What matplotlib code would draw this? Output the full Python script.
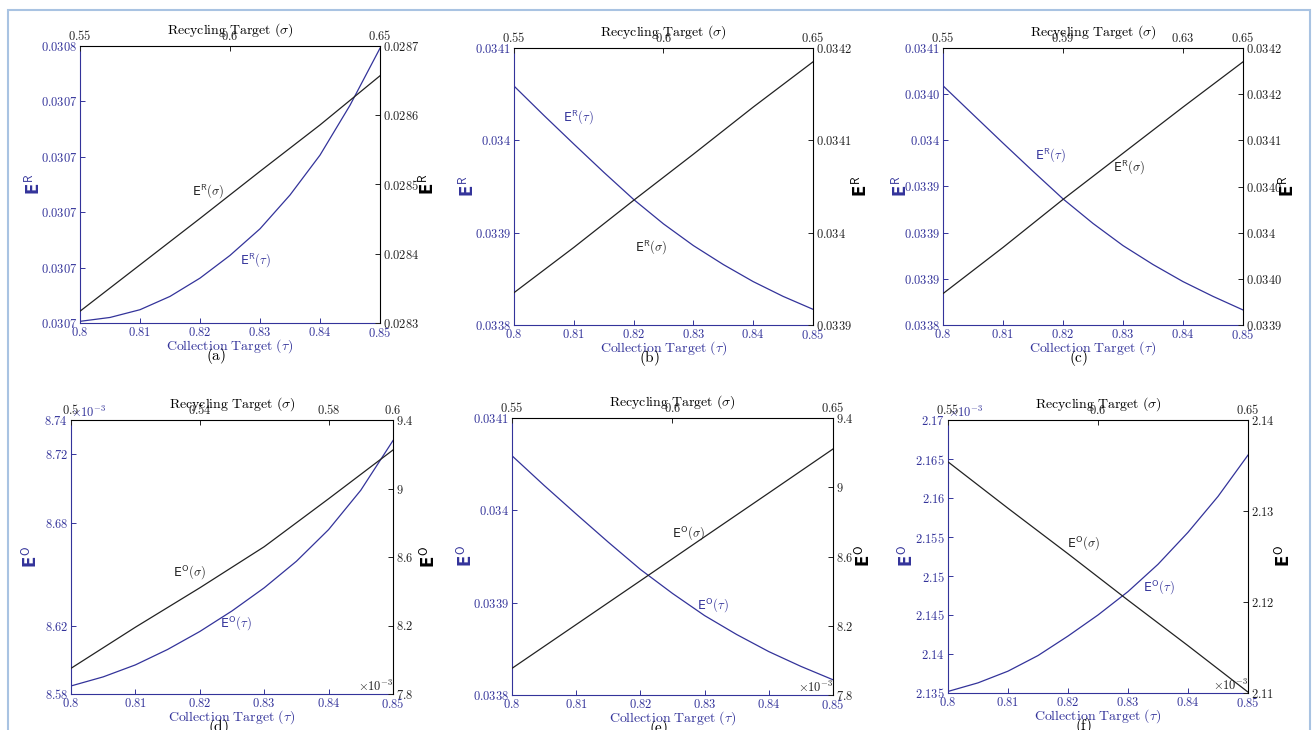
import matplotlib
matplotlib.use("Agg")
import matplotlib.pyplot as plt
from matplotlib.patches import Rectangle

plt.rcParams['mathtext.fontset'] = 'cm'
plt.rcParams['font.family'] = ['DejaVu Sans']

BLUE = '#33339a'
W, H = 1313, 730

# x values
tau = [0.800, 0.805, 0.810, 0.815, 0.820, 0.825, 0.830, 0.835, 0.840, 0.845, 0.850]
sigma = [0.55, 0.57, 0.59, 0.61, 0.63, 0.65]
sigma_d = [0.50, 0.52, 0.54, 0.56, 0.58, 0.60]

# (a) E^R
er_tau_a = [0.0307003, 0.0307010, 0.0307024, 0.0307048, 0.0307081, 0.0307122,
            0.0307170, 0.0307231, 0.0307303, 0.0307393, 0.0307496]
er_sigma_a = [0.028317, 0.028384, 0.028451, 0.028519, 0.028586, 0.028657]
# (b) E^R
er_tau_b = [0.0340588, 0.0340270, 0.0339960, 0.0339655, 0.0339360, 0.0339095,
            0.0338860, 0.0338655, 0.0338470, 0.0338310, 0.0338170]
er_sigma_b = [0.033935, 0.033984, 0.034035, 0.034085, 0.034136, 0.034185]
# (c) E^R
er_tau_c = [0.0340591, 0.0340280, 0.0339970, 0.0339665, 0.0339366, 0.0339100,
            0.0338860, 0.0338655, 0.0338470, 0.0338310, 0.0338163]
er_sigma_c = [0.033934, 0.033984, 0.034036, 0.034086, 0.034136, 0.034185]
# (d) E^O
eo_tau_d = [8.5847e-3, 8.5900e-3, 8.5970e-3, 8.6060e-3, 8.6165e-3, 8.6285e-3,
            8.6420e-3, 8.6575e-3, 8.6760e-3, 8.6990e-3, 8.7280e-3]
eo_sigma_d = [7.950e-3, 8.190e-3, 8.420e-3, 8.660e-3, 8.940e-3, 9.225e-3]
# (e) E^O
eo_tau_e = [0.0340591, 0.0340270, 0.0339960, 0.0339655, 0.0339360, 0.0339100,
            0.0338860, 0.0338655, 0.0338470, 0.0338310, 0.0338165]
eo_sigma_e = [7.954e-3, 8.207e-3, 8.460e-3, 8.714e-3, 8.967e-3, 9.221e-3]
# (f) E^O
eo_tau_f = [2.1352e-3, 2.1363e-3, 2.1378e-3, 2.1398e-3, 2.1423e-3, 2.1450e-3,
            2.1480e-3, 2.1515e-3, 2.1556e-3, 2.1602e-3, 2.1655e-3]
eo_sigma_f = [2.1354e-3, 2.1303e-3, 2.1253e-3, 2.1202e-3, 2.1152e-3, 2.1101e-3]

# tick values and labels
tau_ticks = [0.80, 0.81, 0.82, 0.83, 0.84, 0.85]
tau_labels = ['0.8', '0.81', '0.82', '0.83', '0.84', '0.85']

left_a = [0.03070, 0.03071, 0.03072, 0.03073, 0.03074, 0.03075]
left_a_lab = ['0.0307', '0.0307', '0.0307', '0.0307', '0.0307', '0.0308']
right_a = [0.0283, 0.0284, 0.0285, 0.0286, 0.0287]
right_a_lab = ['0.0283', '0.0284', '0.0285', '0.0286', '0.0287']

left_b = [0.0338, 0.0339, 0.0340, 0.0341]
left_b_lab = ['0.0338', '0.0339', '0.034', '0.0341']
right_b = [0.0339, 0.0340, 0.0341, 0.0342]
right_b_lab = ['0.0339', '0.034', '0.0341', '0.0342']

left_c = [0.0338, 0.03385, 0.0339, 0.03395, 0.0340, 0.03405, 0.0341]
left_c_lab = ['0.0338', '0.0339', '0.0339', '0.0339', '0.034', '0.0340', '0.0341']
right_c = [0.0339, 0.03395, 0.0340, 0.03405, 0.0341, 0.03415, 0.0342]
right_c_lab = ['0.0339', '0.0340', '0.034', '0.0340', '0.0341', '0.0342', '0.0342']

left_d = [8.58e-3, 8.62e-3, 8.68e-3, 8.72e-3, 8.74e-3]
left_d_lab = ['8.58', '8.62', '8.68', '8.72', '8.74']
right_d = [7.8e-3, 8.2e-3, 8.6e-3, 9.0e-3, 9.4e-3]
right_d_lab = ['7.8', '8.2', '8.6', '9', '9.4']

left_f = [2.135e-3, 2.14e-3, 2.145e-3, 2.15e-3, 2.155e-3, 2.16e-3, 2.165e-3, 2.17e-3]
left_f_lab = ['2.135', '2.14', '2.145', '2.15', '2.155', '2.16', '2.165', '2.17']
right_f = [2.11e-3, 2.12e-3, 2.13e-3, 2.14e-3]
right_f_lab = ['2.11', '2.12', '2.13', '2.14']

sig_ticks = [0.55, 0.60, 0.65]
sig_labels = ['0.55', '0.6', '0.65']
sig_ticks_c = [0.55, 0.59, 0.63, 0.65]
sig_labels_c = ['0.55', '0.59', '0.63', '0.65']
sig_ticks_d = [0.50, 0.54, 0.58, 0.60]
sig_labels_d = ['0.5', '0.54', '0.58', '0.6']

fig = plt.figure(figsize=(W / 100, H / 100), dpi=100)

# light blue frame of the screenshot
fig.add_artist(Rectangle((8 / W, -0.1), 1302 / W, 1.1 - 10 / H, transform=fig.transFigure,
                         fill=False, ec='#a9c3e2', lw=1.5))


def m(s):
    return '$' + s + '$'


def panel(box, tau_y, sig_x, sig_y, lt, ll, rt, rl, st, sl, letter, sym,
          lab_tau, lab_sig, ylx, mult_left=False, mult_right=False):
    l, t, r, b = box
    pos = [l / W, 1 - b / H, (r - l) / W, (b - t) / H]
    ylab = 'E' + m(r'^{\mathsf{' + sym + '}}')
    ax = fig.add_axes(pos)
    ax.plot(tau, tau_y, color=BLUE, lw=0.9)
    ax.set_xlim(0.80, 0.85)
    ax.set_ylim(lt[0], lt[-1])
    ax.set_xticks(tau_ticks)
    ax.set_xticklabels([m(s) for s in tau_labels])
    ax.set_yticks(lt)
    ax.set_yticklabels([m(s) for s in ll])
    ax.tick_params(direction='in', length=3.5, width=0.7, colors=BLUE, labelsize=9, pad=2)
    for s in ['left', 'bottom']:
        ax.spines[s].set_color(BLUE)
    for s in ['top', 'right']:
        ax.spines[s].set_visible(False)
    ax.set_xlabel(r'$\mathrm{Collection\ Target\ }(\tau)$', color=BLUE, fontsize=10, labelpad=-2)
    ax.set_ylabel(ylab, color=BLUE, fontsize=12, fontweight='bold')
    ax.yaxis.label.set_va('center')
    ax.yaxis.set_label_coords((ylx[0] - l) / (r - l), 0.5)

    ax2 = fig.add_axes(pos, label='sig' + letter, facecolor='none')
    ax2.plot(sig_x, sig_y, color='#222222', lw=0.9)
    ax2.set_xlim(st[0], st[-1])
    ax2.set_ylim(rt[0], rt[-1])
    ax2.xaxis.tick_top()
    ax2.xaxis.set_label_position('top')
    ax2.yaxis.tick_right()
    ax2.yaxis.set_label_position('right')
    ax2.set_xticks(st)
    ax2.set_xticklabels([m(s) for s in sl])
    ax2.set_yticks(rt)
    ax2.set_yticklabels([m(s) for s in rl])
    ax2.tick_params(direction='in', length=3.5, width=0.7, colors='#222222', labelsize=9, pad=2)
    for s in ['left', 'bottom']:
        ax2.spines[s].set_visible(False)
    ax2.set_xlabel(r'$\mathrm{Recycling\ Target\ }(\sigma)$', fontsize=10, labelpad=-3)
    ax2.set_ylabel(ylab, fontsize=12, fontweight='bold')
    ax2.yaxis.label.set_va('center')
    ax2.yaxis.set_label_coords((ylx[1] - l) / (r - l), 0.5)

    # curve labels
    for (px, py, txt, col) in [(lab_tau[0], lab_tau[1], r'\tau', BLUE),
                               (lab_sig[0], lab_sig[1], r'\sigma', '#222222')]:
        fig.text(px / W, 1 - py / H, 'E' + m(r'^{\mathsf{' + sym + '}}(' + txt + ')'),
                 color=col, fontsize=9, ha='left', va='center')

    fig.text(((l + r) / 2 - 14) / W, 1 - (b + 33) / H, m(r'\mathrm{(' + letter + ')}'),
             fontsize=11, ha='center', va='center')
    if mult_left:
        ax.text(0.0, 1.0, m(r'\times10^{-3}'), transform=ax.transAxes, color=BLUE,
                fontsize=9, ha='left', va='bottom')
    if mult_right:
        ax2.text(1.0, 0.0, m(r'\times10^{-3}'), transform=ax2.transAxes, color='#222222',
                 fontsize=9, ha='right', va='bottom')


panel((80, 46, 380, 323), er_tau_a, sigma, er_sigma_a, left_a, left_a_lab, right_a, right_a_lab,
      sig_ticks, sig_labels, 'a', 'R', (240, 260), (192, 191), (33, 427))
panel((514, 48, 813, 325), er_tau_b, sigma, er_sigma_b, left_b, left_b_lab, right_b, right_b_lab,
      sig_ticks, sig_labels, 'b', 'R', (563, 117), (635, 247), (467, 860))
panel((943, 48, 1243, 325), er_tau_c, sigma, er_sigma_c, left_c, left_c_lab, right_c, right_c_lab,
      sig_ticks_c, sig_labels_c, 'c', 'R', (1035, 155), (1113, 167), (900, 1287))
panel((71, 420, 393, 694), eo_tau_d, sigma_d, eo_sigma_d, left_d, left_d_lab, right_d, right_d_lab,
      sig_ticks_d, sig_labels_d, 'd', 'O', (220, 623), (173, 572), (30, 428), True, True)
panel((512, 418, 833, 695), eo_tau_e, sigma, eo_sigma_e, left_b, left_b_lab, right_d, right_d_lab,
      sig_ticks, sig_labels, 'e', 'O', (697, 605), (672, 533), (465, 863), False, True)
panel((948, 420, 1248, 693), eo_tau_f, sigma, eo_sigma_f, left_f, left_f_lab, right_f, right_f_lab,
      sig_ticks, sig_labels, 'f', 'O', (1143, 587), (1067, 543), (906, 1283), True, True)

fig.savefig('out.png', dpi=100)
